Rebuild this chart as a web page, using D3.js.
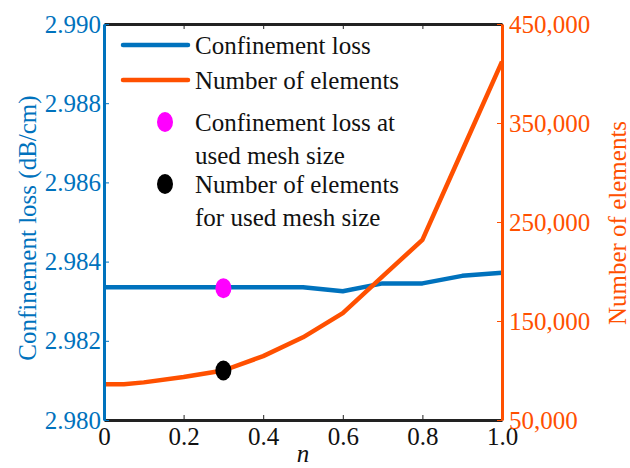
<!DOCTYPE html>
<html><head><meta charset="utf-8">
<script src="https://cdn.jsdelivr.net/npm/d3@7"></script>
<style>body{margin:0;background:#fff}svg{display:block}</style>
</head><body>
<svg id="c" width="630" height="468"></svg>
<script>
const nVals = [0, 0.1, 0.2, 0.3, 0.4, 0.5, 0.6, 0.7, 0.8, 0.9, 1.0];
const lossVals = [2.98335, 2.98335, 2.98335, 2.98335, 2.98335, 2.98335, 2.98325, 2.98345, 2.98345, 2.98364, 2.98372];
const elemN = [0, 0.05, 0.1, 0.2, 0.3, 0.4, 0.5, 0.6, 0.7, 0.8, 0.9, 1.0];
const elemVals = [86000, 86000, 88000, 93500, 100000, 114500, 133500, 158000, 195000, 232000, 322000, 412000];
const usedN = [0.3];
const usedLoss = [2.98333];
const usedElem = [100000];
const xTicks = [0, 0.2, 0.4, 0.6, 0.8, 1.0];
const xTickLabels = ["0", "0.2", "0.4", "0.6", "0.8", "1.0"];
const yLeftTicks = [2.980, 2.982, 2.984, 2.986, 2.988, 2.990];
const yLeftLabels = ["2.980", "2.982", "2.984", "2.986", "2.988", "2.990"];
const yRightTicks = [50000, 150000, 250000, 350000, 450000];
const yRightLabels = ["50,000", "150,000", "250,000", "350,000", "450,000"];
const legendLabels = ["Confinement loss", "Number of elements", ["Confinement loss at", "used mesh size"], ["Number of elements", "for used mesh size"]];

const FONT = "'Liberation Serif', Tinos, 'Times New Roman', 'DejaVu Serif', serif";
const BLUE = "#0072BD", ORANGE = "#FF5000";
const L = 104, R = 502, T = 24, B = 420;
const svg = d3.select("#c").attr("font-family", FONT);
const x = d3.scaleLinear().domain([0, 1]).range([L, R]);
const yL = d3.scaleLinear().domain([2.980, 2.990]).range([B, T]);
const yR = d3.scaleLinear().domain([50000, 450000]).range([B, T]);

// lines
svg.append("path").datum(nVals.map((n, i) => [n, lossVals[i]]))
  .attr("fill", "none").attr("stroke", BLUE).attr("stroke-width", 4.5).attr("stroke-linejoin", "round")
  .attr("d", d3.line().x(d => x(d[0])).y(d => yL(d[1])));
svg.append("path").datum(elemN.map((n, i) => [n, elemVals[i]]))
  .attr("fill", "none").attr("stroke", ORANGE).attr("stroke-width", 4.5).attr("stroke-linejoin", "round")
  .attr("d", d3.line().x(d => x(d[0])).y(d => yR(d[1])));
// markers
svg.selectAll(".m1").data(usedN).enter().append("ellipse")
  .attr("cx", d => x(d)).attr("cy", (d, i) => yL(usedLoss[i])).attr("rx", 8).attr("ry", 10).attr("fill", "#FF00FF");
svg.selectAll(".m2").data(usedN).enter().append("ellipse")
  .attr("cx", d => x(d)).attr("cy", (d, i) => yR(usedElem[i])).attr("rx", 8).attr("ry", 10).attr("fill", "#000");

// axes
const fs = 25;
function styleAxis(g) { g.attr("font-family", FONT).attr("font-size", fs); }
const axB = svg.append("g").attr("transform", `translate(0,${B})`)
  .call(d3.axisBottom(x).tickValues(xTicks).tickSizeInner(-5).tickSizeOuter(0).tickFormat((d, i) => xTickLabels[i]));
styleAxis(axB);
axB.select(".domain").attr("stroke", "#222").attr("stroke-width", 3);
axB.selectAll(".tick line").attr("stroke", "#222").attr("stroke-width", 1);
axB.selectAll(".tick text").attr("fill", "#111").attr("dy", 0).attr("y", 25);
const axT = svg.append("g").attr("transform", `translate(0,${T})`)
  .call(d3.axisTop(x).tickValues(xTicks).tickSizeInner(-5).tickSizeOuter(0).tickFormat(""));
axT.select(".domain").attr("stroke", "#222").attr("stroke-width", 3);
axT.selectAll(".tick line").attr("stroke", "#222").attr("stroke-width", 1);

const axL = svg.append("g").attr("transform", `translate(${L},0)`)
  .call(d3.axisLeft(yL).tickValues(yLeftTicks).tickSizeInner(-5).tickSizeOuter(0).tickFormat((d, i) => yLeftLabels[i]));
styleAxis(axL);
axL.select(".domain").attr("stroke", BLUE).attr("stroke-width", 3);
axL.selectAll(".tick line").attr("stroke", BLUE);
axL.selectAll(".tick text").attr("fill", BLUE).attr("x", -3).attr("dy", "0.32em");

const axR = svg.append("g").attr("transform", `translate(${R},0)`)
  .call(d3.axisRight(yR).tickValues(yRightTicks).tickSizeInner(-5).tickSizeOuter(0).tickFormat((d, i) => yRightLabels[i]));
styleAxis(axR);
axR.select(".domain").attr("stroke", ORANGE).attr("stroke-width", 3);
axR.selectAll(".tick line").attr("stroke", ORANGE);
axR.selectAll(".tick text").attr("fill", ORANGE).attr("x", 7).attr("dy", "0.32em");

// axis titles
svg.append("text").attr("transform", `translate(36,228) rotate(-90)`).attr("text-anchor", "middle")
  .attr("font-size", fs).attr("fill", BLUE).text("Confinement loss (dB/cm)");
svg.append("text").attr("transform", `translate(626,223) rotate(-90)`).attr("text-anchor", "middle")
  .attr("font-size", fs).attr("fill", ORANGE).text("Number of elements");
svg.append("text").attr("x", x(0.5)).attr("y", 462).attr("text-anchor", "middle")
  .attr("font-size", fs).attr("font-style", "italic").attr("fill", "#111").text("n");

// legend
const lg = svg.append("g");
const lx1 = 123, lx2 = 188, tx = 195;
lg.append("line").attr("x1", lx1).attr("x2", lx2).attr("y1", 45).attr("y2", 45).attr("stroke", BLUE).attr("stroke-width", 4.5).attr("stroke-linecap", "round");
lg.append("text").attr("x", tx).attr("y", 54).attr("font-size", fs).attr("fill", "#111").text(legendLabels[0]);
lg.append("line").attr("x1", lx1).attr("x2", lx2).attr("y1", 80).attr("y2", 80).attr("stroke", ORANGE).attr("stroke-width", 4.5).attr("stroke-linecap", "round");
lg.append("text").attr("x", tx).attr("y", 89).attr("font-size", fs).attr("fill", "#111").text(legendLabels[1]);
lg.append("ellipse").attr("cx", 165).attr("cy", 122).attr("rx", 8).attr("ry", 10).attr("fill", "#FF00FF");
legendLabels[2].forEach((t, i) => lg.append("text").attr("x", tx).attr("y", 131 + i * 33).attr("font-size", fs).attr("fill", "#111").text(t));
lg.append("ellipse").attr("cx", 165).attr("cy", 184).attr("rx", 8).attr("ry", 10).attr("fill", "#000");
legendLabels[3].forEach((t, i) => lg.append("text").attr("x", tx).attr("y", 193 + i * 33).attr("font-size", fs).attr("fill", "#111").text(t));
</script>
</body></html>
